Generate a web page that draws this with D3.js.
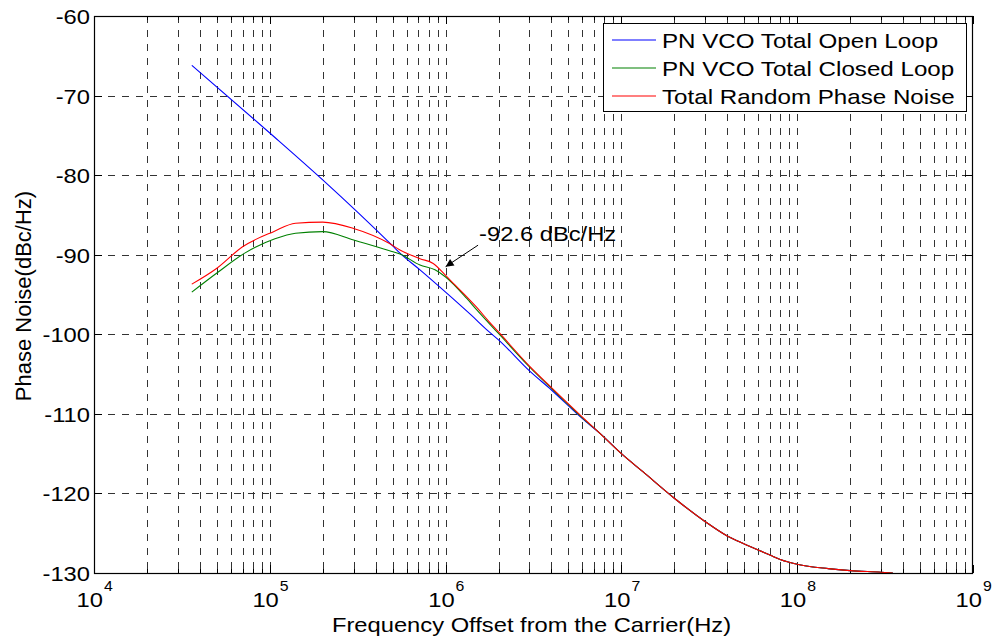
<!DOCTYPE html>
<html><head><meta charset="utf-8">
<script src="https://cdn.jsdelivr.net/npm/d3@7"></script>
<style>body{margin:0;background:#fff}svg{display:block}text{font-family:"Liberation Sans",Arial,Helvetica,sans-serif;fill:#000}</style>
</head><body><svg id="c" width="993" height="639"></svg>
<script>
// ---- data ----
const seriesNames = ["PN VCO Total Open Loop","PN VCO Total Closed Loop","Total Random Phase Noise"];
const seriesColors = ["#0000ff","#008000","#ff0000"];
const openFreq  = [3.6e4,1e5,2e5,5e5,5.5e5,7.15e5,1e6,1.4e6,1.75e6,2e6,3e6,4e6,6e6,7.55e6,1e7,1.33e7,2e7,3e7,4e7,5e7,6e7,7e7,8e7,1e8,1.5e8,2e8,3e8,3.5e8];
const openVal   = [-66.2,-74.7,-80.6,-88.9,-89.8,-91.9,-94.7,-97.6,-99.6,-100.7,-104.6,-107.0,-110.6,-112.45,-115.0,-117.3,-120.6,-123.55,-125.35,-126.35,-127.1,-127.75,-128.3,-128.9,-129.45,-129.7,-129.9,-130.0];
const closedFreq= [3.6e4,5e4,7.2e4,1.07e5,1.4e5,2e5,3e5,4.8e5,5.5e5,7.15e5,8.7e5,1e6,1.32e6,1.5e6,2e6,3e6,4e6,6e6,7.55e6,1e7,1.33e7,2e7,3e7,4e7,5e7,6e7,7e7,8e7,1e8,1.5e8,2e8,3e8,3.5e8];
const closedVal = [-94.7,-92.3,-89.8,-88.0,-87.3,-87.1,-88.15,-89.5,-89.9,-91.3,-91.9,-92.8,-95.5,-96.9,-99.9,-104.1,-106.8,-110.5,-112.45,-115.0,-117.3,-120.6,-123.55,-125.35,-126.35,-127.1,-127.75,-128.3,-128.9,-129.45,-129.7,-129.9,-130.0];
const totalFreq = [3.6e4,5e4,7e4,1.05e5,1.4e5,2e5,3e5,4.8e5,5.5e5,7.15e5,8.5e5,1e6,1.13e6,1.32e6,1.5e6,1.75e6,2e6,3e6,4e6,6e6,7.55e6,1e7,1.33e7,2e7,3e7,4e7,5e7,6e7,7e7,8e7,1e8,1.5e8,2e8,3e8,3.5e8];
const totalVal  = [-93.7,-91.7,-89.0,-87.1,-86.05,-85.9,-86.7,-88.6,-89.4,-90.5,-91.1,-92.6,-93.8,-95.3,-96.6,-98.3,-99.7,-104.0,-106.7,-110.4,-112.45,-115.0,-117.3,-120.6,-123.55,-125.35,-126.35,-127.1,-127.75,-128.3,-128.9,-129.45,-129.7,-129.9,-130.0];
const xTickExps = [4,5,6,7,8,9];
const yTicks = [-60,-70,-80,-90,-100,-110,-120,-130];
const annotText = "-92.6 dBc/Hz";
const annotTip = [1.0e6,-91.5];
const annotTail = [1.53e6,-88.8];
const annotTextPos = [1.55e6,-88.3];
const xLabel = "Frequency Offset from the Carrier(Hz)";
const yLabel = "Phase Noise(dBc/Hz)";

// ---- layout ----
const L=94, R=973, T=16, B=573, SX=1.13;
const svg=d3.select("#c");
const x=d3.scaleLog().domain([1e4,1e9]).range([L,R]);
const y=d3.scaleLinear().domain([-130,-60]).range([B,T]);
function stretch(sel,k){sel.each(function(){const w=this.getComputedTextLength();d3.select(this).attr("textLength",w*(k||SX)).attr("lengthAdjust","spacingAndGlyphs");});return sel;}

// grid
const minor=[];xTickExps.slice(0,-1).forEach(e=>{for(let m=1;m<10;m++){if(m===1&&e===4)continue;minor.push(m*Math.pow(10,e));}});
const g=svg.append("g").attr("stroke","#333").attr("stroke-width",1).attr("stroke-dasharray","7,7").attr("fill","none");
g.selectAll("line.v").data(minor).join("line").attr("x1",d=>Math.round(x(d))+0.5).attr("x2",d=>Math.round(x(d))+0.5).attr("y1",T).attr("y2",B);
g.selectAll("line.h").data(yTicks.filter(v=>v>-130&&v<-60)).join("line").attr("y1",d=>Math.round(y(d))+0.5).attr("y2",d=>Math.round(y(d))+0.5).attr("x1",L).attr("x2",R);

// ticks (inward)
const tk=svg.append("g").attr("stroke","#000").attr("stroke-width",1);
minor.concat([1e4,1e9]).forEach(d=>{const major=Math.abs(Math.log10(d)-Math.round(Math.log10(d)))<1e-9;const len=major?8:4;const xx=Math.round(x(d))+0.5;
  tk.append("line").attr("x1",xx).attr("x2",xx).attr("y1",B).attr("y2",B-len);
  tk.append("line").attr("x1",xx).attr("x2",xx).attr("y1",T).attr("y2",T+len);});
yTicks.forEach(v=>{const yy=Math.round(y(v))+0.5;
  tk.append("line").attr("x1",L).attr("x2",L+8).attr("y1",yy).attr("y2",yy);
  tk.append("line").attr("x1",R).attr("x2",R-8).attr("y1",yy).attr("y2",yy);});

// lines
const line=d3.line().x(d=>x(d[0])).y(d=>y(d[1])).curve(d3.curveMonotoneX);
const series=[d3.zip(openFreq,openVal),d3.zip(closedFreq,closedVal),d3.zip(totalFreq,totalVal)];
series.forEach((s,i)=>svg.append("path").datum(s).attr("d",line).attr("fill","none").attr("stroke",seriesColors[i]).attr("stroke-width",1.1));

// frame
svg.append("rect").attr("x",L+0.5).attr("y",T+0.5).attr("width",R-L-1).attr("height",B-T).attr("fill","none").attr("stroke","#000").attr("stroke-width",1.2);

// y tick labels
stretch(svg.append("g").selectAll("text").data(yTicks).join("text").attr("x",L-4).attr("y",d=>y(d)+8).attr("text-anchor","end").attr("font-size",21).text(d=>d));
// x tick labels
xTickExps.forEach(e=>{const xx=x(Math.pow(10,e));
  stretch(svg.append("text").attr("x",xx+9).attr("y",607).attr("text-anchor","end").attr("font-size",21).text("10"));
  stretch(svg.append("text").attr("x",xx+10).attr("y",591).attr("font-size",14).text(e));});
// axis labels
stretch(svg.append("text").attr("x",(331+732)/2).attr("y",632).attr("text-anchor","middle").attr("font-size",21).text(xLabel));
svg.append("text").attr("transform","translate(31,296) rotate(-90)").attr("text-anchor","middle").attr("font-size",22).text(yLabel);

// legend
const lg=svg.append("g");
lg.append("rect").attr("x",603.5).attr("y",23.5).attr("width",363).attr("height",88).attr("fill","#fff").attr("stroke","#000").attr("stroke-width",1);
seriesNames.forEach((n,i)=>{const yy=40+i*28;
  lg.append("line").attr("x1",612).attr("x2",656).attr("y1",yy).attr("y2",yy).attr("stroke",seriesColors[i]).attr("stroke-width",1.1);
  stretch(lg.append("text").attr("x",662).attr("y",yy+7.5).attr("font-size",21).text(n),1.15);});

// annotation
svg.append("defs").append("marker").attr("id","ah").attr("viewBox","0 0 10 10").attr("refX",10).attr("refY",5).attr("markerWidth",11).attr("markerHeight",8).attr("markerUnits","userSpaceOnUse").attr("orient","auto")
  .append("path").attr("d","M0,0L10,5L0,10z").attr("fill","#000");
svg.append("line").attr("x1",x(annotTail[0])).attr("y1",y(annotTail[1])).attr("x2",x(annotTip[0])).attr("y2",y(annotTip[1])).attr("stroke","#000").attr("stroke-width",1).attr("marker-end","url(#ah)");
stretch(svg.append("text").attr("x",x(annotTextPos[0])).attr("y",y(annotTextPos[1])).attr("font-size",21).text(annotText));
</script></body></html>
